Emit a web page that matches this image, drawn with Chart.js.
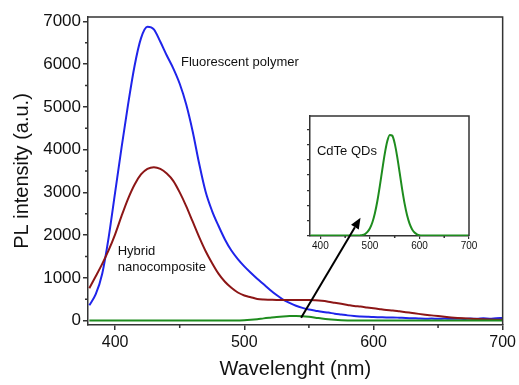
<!DOCTYPE html>
<html>
<head>
<meta charset="utf-8">
<script src="https://cdn.jsdelivr.net/npm/chart.js@4.4.1/dist/chart.umd.min.js"></script>
<style>
  body { margin: 0; background: #fff; }
  #wrap { position: relative; width: 519px; height: 385px; }
  #wrap canvas { position: absolute; left: 0; top: 0; }
</style>
</head>
<body>
<div id="wrap">
  <canvas id="mainChart" width="519" height="385"></canvas>
  <canvas id="insetChart" width="519" height="385"></canvas>
</div>
<script>
// wavelength grid (nm), shared by all curves
const wavelengths = [
  380, 385, 390, 395, 400, 405, 410, 415, 420, 425,
  430, 435, 440, 445, 450, 455, 460, 465, 470, 475,
  480, 485, 490, 495, 500, 505, 510, 515, 520, 525,
  530, 535, 540, 545, 550, 555, 560, 565, 570, 575,
  580, 585, 590, 595, 600, 605, 610, 615, 620, 625,
  630, 635, 640, 645, 650, 655, 660, 665, 670, 675,
  680, 685, 690, 695, 700
];
const polymerPL = [
  360, 620, 1100, 1950, 3000, 4050, 5050, 5950, 6600, 6870,
  6810, 6520, 6200, 5900, 5540, 5060, 4430, 3680, 3020, 2570,
  2220, 1900, 1640, 1440, 1270, 1120, 980, 850, 720, 600,
  495, 415, 350, 300, 260, 235, 210, 190, 165, 145,
  125, 110, 100, 92, 85, 82, 78, 77, 70, 62,
  58, 52, 48, 50, 45, 52, 44, 48, 42, 50,
  46, 55, 48, 58, 62
];
const hybridPL = [
  760, 1040, 1330, 1650, 2020, 2450, 2850, 3180, 3420, 3550,
  3590, 3550, 3440, 3270, 3000, 2680, 2320, 1960, 1630, 1350,
  1100, 910, 770, 660, 590, 550, 510, 495, 490, 485,
  485, 485, 485, 485, 485, 478, 465, 445, 420, 395,
  370, 345, 330, 310, 290, 270, 252, 240, 220, 200,
  180, 160, 142, 125, 108, 92, 78, 66, 55, 46,
  38, 32, 28, 25, 23
];
const qdPL = [
  3, 3, 3, 3, 3, 3, 3, 3, 3, 3,
  3, 3, 3, 3, 3, 3, 3, 3, 3, 3,
  3, 4, 5, 7, 10, 20, 35, 55, 72, 88,
  100, 108, 110, 105, 92, 72, 50, 32, 20, 12,
  8, 6, 5, 4, 4, 4, 4, 4, 4, 4,
  4, 4, 4, 4, 4, 4, 4, 4, 4, 4,
  4, 4, 4, 4, 4
];
// inset: normalised CdTe QD emission
const qdInset = [
  0.005, 0.005, 0.005, 0.005, 0.005, 0.005, 0.005, 0.005, 0.005, 0.005,
  0.005, 0.005, 0.005, 0.005, 0.005, 0.005, 0.005, 0.005, 0.005, 0.005,
  0.006, 0.009, 0.019, 0.040, 0.076, 0.135, 0.224, 0.344, 0.493, 0.655,
  0.81, 0.931, 0.994, 0.987, 0.911, 0.781, 0.623, 0.461, 0.318, 0.203,
  0.121, 0.067, 0.034, 0.016, 0.007, 0.005, 0.005, 0.005, 0.005, 0.005,
  0.005, 0.005, 0.005, 0.005, 0.005, 0.005, 0.005, 0.005, 0.005, 0.005,
  0.005, 0.005, 0.005, 0.005, 0.005
];

const mainXTicks = [400, 500, 600, 700];
const mainXMinor = [450, 550, 650];
const mainYTicks = [0, 1000, 2000, 3000, 4000, 5000, 6000, 7000];
const mainYMinor = [500, 1500, 2500, 3500, 4500, 5500, 6500];
const insetXTicks = [400, 500, 600, 700];
const insetXMinor = [450, 550, 650];
const insetYTicks = [0, 0.15, 0.3, 0.45, 0.6, 0.75, 0.9, 1.05];

const arrowFrom = [544, 70];   // main axes (nm, a.u.)
const arrowTo = [481, 0.18];   // inset axes

const family = 'Liberation Sans, Arial, sans-serif';
const axisColor = '#333';
const textColor = '#111';

function toPoints(xs, ys) {
  return xs.map((x, i) => ({ x: x, y: ys[i] }));
}

function fixedTicks(list) {
  return scale => { scale.ticks = list.map(v => ({ value: v })); };
}

// top/right frame, minor ticks and text notes
const frameAndNotes = {
  id: 'frameAndNotes',
  beforeDraw(chart, args, opts) {
    if (!opts.fill) return;
    const a = chart.chartArea;
    chart.ctx.save();
    chart.ctx.fillStyle = '#fff';
    chart.ctx.fillRect(a.left, a.top, a.right - a.left, a.bottom - a.top);
    chart.ctx.restore();
  },
  afterDraw(chart, args, opts) {
    const { ctx, chartArea: a } = chart;
    const x = chart.scales.x, y = chart.scales.y;
    ctx.save();
    ctx.strokeStyle = axisColor;
    ctx.lineWidth = 1.5;
    ctx.beginPath();
    ctx.moveTo(a.left, a.top);
    ctx.lineTo(a.right, a.top);
    ctx.lineTo(a.right, a.bottom);
    (opts.xMinor || []).forEach(v => {
      const px = x.getPixelForValue(v);
      ctx.moveTo(px, a.bottom);
      ctx.lineTo(px, a.bottom + opts.minorLen);
    });
    (opts.yMinor || []).forEach(v => {
      const py = y.getPixelForValue(v);
      ctx.moveTo(a.left, py);
      ctx.lineTo(a.left - opts.minorLen, py);
    });
    ctx.stroke();

    ctx.fillStyle = textColor;
    ctx.textAlign = 'left';
    ctx.textBaseline = 'middle';
    (opts.notes || []).forEach(n => {
      ctx.font = n.size + 'px ' + family;
      ctx.fillText(n.text, x.getPixelForValue(n.x), y.getPixelForValue(n.y));
    });

    if (opts.arrow) {
      const m = mainChart.scales;
      const x0 = m.x.getPixelForValue(arrowFrom[0]), y0 = m.y.getPixelForValue(arrowFrom[1]);
      const x1 = x.getPixelForValue(arrowTo[0]), y1 = y.getPixelForValue(arrowTo[1]);
      const ang = Math.atan2(y1 - y0, x1 - x0);
      const len = 11, half = 4.5;
      const bx = x1 - len * Math.cos(ang), by = y1 - len * Math.sin(ang);
      ctx.strokeStyle = '#000';
      ctx.lineWidth = 2;
      ctx.beginPath();
      ctx.moveTo(x0, y0);
      ctx.lineTo(bx, by);
      ctx.stroke();
      ctx.fillStyle = '#000';
      ctx.beginPath();
      ctx.moveTo(x1, y1);
      ctx.lineTo(bx + half * Math.sin(ang), by - half * Math.cos(ang));
      ctx.lineTo(bx - half * Math.sin(ang), by + half * Math.cos(ang));
      ctx.closePath();
      ctx.fill();
    }
    ctx.restore();
  }
};

function line(data, color) {
  return {
    data: data,
    borderColor: color,
    borderWidth: 2,
    pointRadius: 0,
    fill: false,
    cubicInterpolationMode: 'monotone'
  };
}

const plainNumber = v => String(v);

const mainChart = new Chart(document.getElementById('mainChart'), {
  type: 'line',
  data: {
    datasets: [
      line(toPoints(wavelengths, qdPL), '#1e8c1e'),
      line(toPoints(wavelengths, hybridPL), '#8c1616'),
      line(toPoints(wavelengths, polymerPL), '#1f24ea')
    ]
  },
  plugins: [frameAndNotes],
  options: {
    responsive: false,
    animation: false,
    events: [],
    layout: { padding: { top: 17, right: 16, left: 0, bottom: 0 } },
    plugins: {
      legend: { display: false },
      tooltip: { enabled: false },
      frameAndNotes: {
        minorLen: 3,
        xMinor: mainXMinor,
        yMinor: mainYMinor,
        notes: [
          { text: 'Fluorescent polymer', x: 451, y: 6040, size: 13 },
          { text: 'Hybrid', x: 402, y: 1630, size: 13 },
          { text: 'nanocomposite', x: 402, y: 1235, size: 13 }
        ]
      }
    },
    scales: {
      x: {
        type: 'linear',
        min: 379,
        max: 700,
        afterBuildTicks: fixedTicks(mainXTicks),
        afterFit: s => { s.height = 60; },
        grid: { drawOnChartArea: false, tickLength: 5, color: axisColor, lineWidth: 1.5 },
        border: { color: axisColor, width: 1.5 },
        ticks: { font: { family: family, size: 16 }, color: textColor, padding: 3, maxRotation: 0, callback: plainNumber },
        title: {
          display: true, text: 'Wavelenght (nm)', color: textColor,
          font: { family: family, size: 20 }, padding: { top: 0, bottom: 4 }
        }
      },
      y: {
        type: 'linear',
        min: -100,
        max: 7100,
        afterBuildTicks: fixedTicks(mainYTicks),
        afterFit: s => { s.width = 88; },
        grid: { drawOnChartArea: false, tickLength: 5, color: axisColor, lineWidth: 1.5 },
        border: { color: axisColor, width: 1.5 },
        ticks: { font: { family: family, size: 17 }, color: textColor, padding: 2, callback: plainNumber },
        title: {
          display: true, text: 'PL intensity (a.u.)', color: textColor,
          font: { family: family, size: 20 }, padding: { top: 10, bottom: 0 }
        }
      }
    }
  }
});

const insetChart = new Chart(document.getElementById('insetChart'), {
  type: 'line',
  data: {
    datasets: [line(toPoints(wavelengths, qdInset), '#1e8c1e')]
  },
  plugins: [frameAndNotes],
  options: {
    responsive: false,
    animation: false,
    events: [],
    layout: { padding: { top: 116, right: 50, left: 300, bottom: 129 } },
    plugins: {
      legend: { display: false },
      tooltip: { enabled: false },
      frameAndNotes: {
        fill: true,
        arrow: true,
        minorLen: 2,
        xMinor: insetXMinor,
        notes: [{ text: 'CdTe QDs', x: 393, y: 0.83, size: 13 }]
      }
    },
    scales: {
      x: {
        type: 'linear',
        min: 379,
        max: 700,
        afterBuildTicks: fixedTicks(insetXTicks),
        afterFit: s => { s.height = 20; },
        grid: { drawOnChartArea: false, tickLength: 3, color: axisColor, lineWidth: 1.2 },
        border: { color: axisColor, width: 1.5 },
        ticks: { font: { family: family, size: 10 }, color: textColor, padding: 1, maxRotation: 0, callback: plainNumber }
      },
      y: {
        type: 'linear',
        min: 0,
        max: 1.18,
        afterBuildTicks: fixedTicks(insetYTicks),
        afterFit: s => { s.width = 10; },
        grid: { drawOnChartArea: false, tickLength: 3, color: axisColor, lineWidth: 1.2 },
        border: { color: axisColor, width: 1.5 },
        ticks: { display: false }
      }
    }
  }
});
</script>
</body>
</html>
